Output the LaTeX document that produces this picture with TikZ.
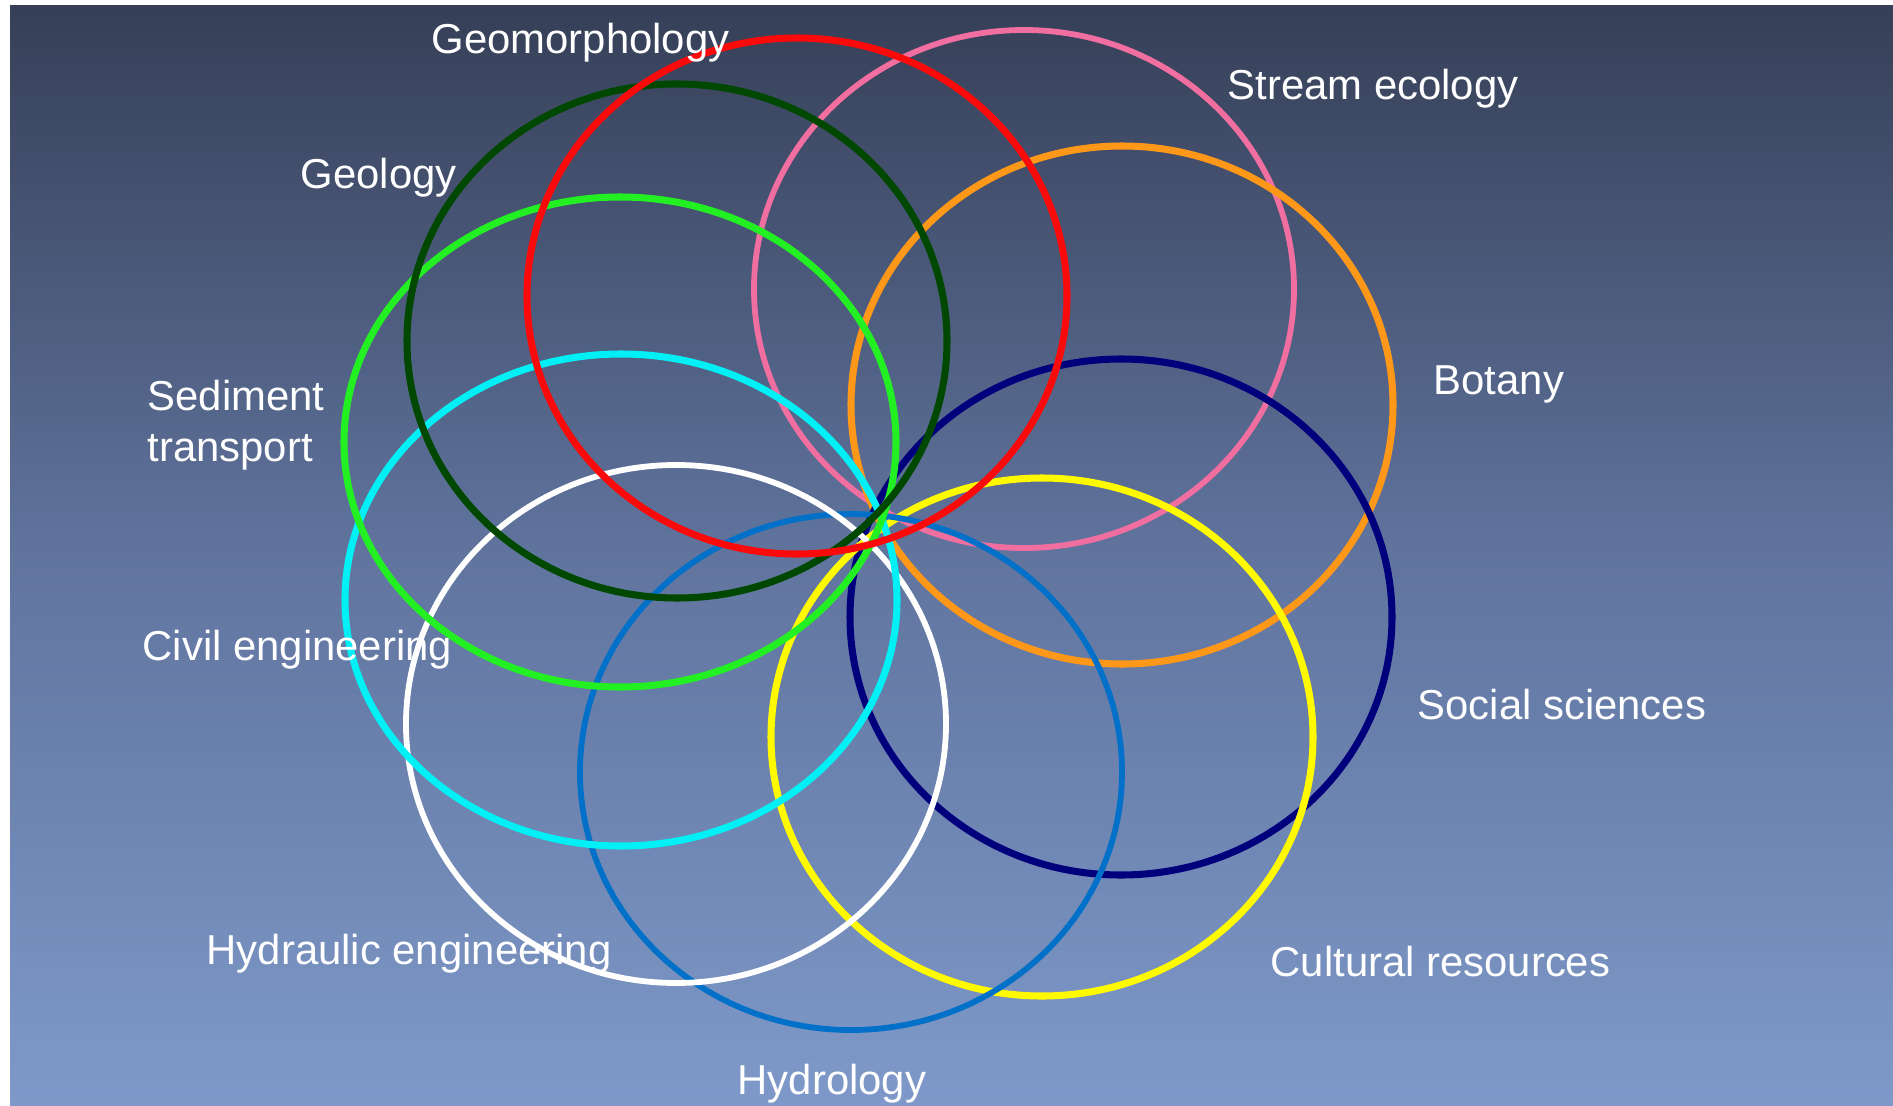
\documentclass[tikz,border=0pt]{standalone}
\usepackage{fontspec}
\setmainfont{Liberation Sans}
\definecolor{bgtop}{RGB}{54,63,87}
\definecolor{bgmid}{RGB}{96,116,158}
\definecolor{bgbot}{RGB}{126,153,201}
\definecolor{cred}{RGB}{250,10,10}
\definecolor{cdkgreen}{RGB}{0,72,0}
\definecolor{cgreen}{RGB}{34,240,34}
\definecolor{ccyan}{RGB}{0,240,245}
\definecolor{cblue}{RGB}{0,112,200}
\definecolor{cyellow}{RGB}{255,250,0}
\definecolor{cnavy}{RGB}{0,0,125}
\definecolor{corange}{RGB}{255,152,24}
\definecolor{cpink}{RGB}{240,110,160}
\tikzset{
  ring/.style={line width=2.0pt},
  thinring/.style={line width=1.65pt},
  lbl/.style={anchor=base west, inner sep=0pt, text=white, font=\fontsize{11.9}{13.7}\selectfont},
}
\begin{document}
\begin{tikzpicture}[x=0.01cm,y=-0.01cm]
\useasboundingbox (0,0) rectangle (1893,1106);
\fill[white] (0,0) rectangle (1893,1106);
\shade[top color=bgtop, bottom color=bgbot, middle color=bgmid] (10,5) rectangle (1893,1106);
% rings
\draw[thinring, cpink] (1024,289) ellipse [x radius=270, y radius=259];
\draw[ring, corange] (1122,405) ellipse [x radius=271, y radius=259];
\draw[ring, cnavy] (1121,617) ellipse [x radius=271, y radius=258];
\draw[ring, cyellow] (1042,737) ellipse [x radius=271, y radius=259];
\draw[thinring, cblue] (851,772) ellipse [x radius=271, y radius=258];
\draw[thinring, white] (676,724) ellipse [x radius=270, y radius=259];
\draw[ring, ccyan] (621,600) ellipse [x radius=276, y radius=246];
\draw[ring, cgreen] (620,442) ellipse [x radius=276, y radius=245];
\draw[ring, cdkgreen] (677,341) ellipse [x radius=270, y radius=257];
\draw[ring, cred] (797,296) ellipse [x radius=270, y radius=258];
% labels
\node[lbl] (geomorph) at (431,54) {Geomorphology};
\node[lbl] (stream) at (1227,99) {Stream ecology};
\node[lbl] (geology) at (300,189) {Geology};
\node[lbl] (botany) at (1433,394) {Botany};
\node[lbl] (sed1) at (147,410) {Sediment};
\node[lbl] (sed2) at (147,461) {transport};
\node[lbl] (civil) at (142,660) {Civil engineering};
\node[lbl] (social) at (1417,719) {Social sciences};
\node[lbl] (hydraulic) at (206,964) {Hydraulic engineering};
\node[lbl] (cultural) at (1270,976) {Cultural resources};
\node[lbl] (hydrology) at (737,1094) {Hydrology};
\end{tikzpicture}
\end{document}
